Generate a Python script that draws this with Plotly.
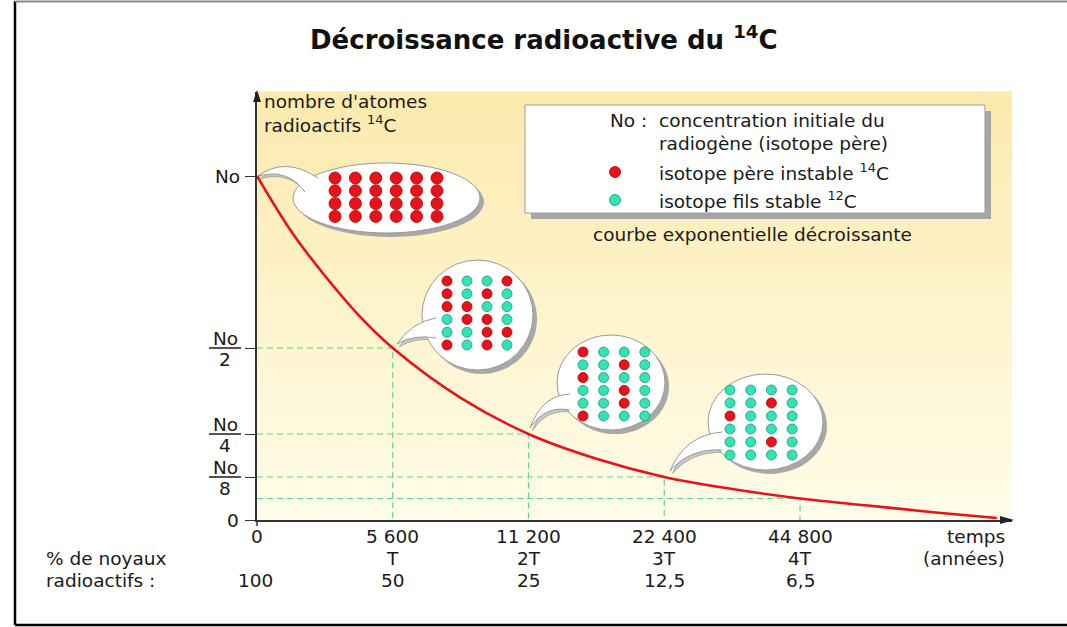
import plotly.graph_objects as go

# ---------------- data ----------------
half_lives = [0, 1, 2, 3, 4]
year_labels = ["0", "5 600", "11 200", "22 400", "44 800"]
period_labels = ["", "T", "2T", "3T", "4T"]
percent_labels = ["100", "50", "25", "12,5", "6,5"]
remaining = [1, 0.5, 0.25, 0.125, 0.0625]

curve_t = [0, 0.25, 0.5, 0.75, 1, 1.5, 2, 2.5, 3, 3.5, 4, 4.5, 5, 5.45]
curve_n = [1, 0.84, 0.71, 0.595, 0.5, 0.355, 0.25, 0.178, 0.125, 0.09, 0.0625, 0.042, 0.022, 0.006]

y_tick_vals = [0, 0.125, 0.25, 0.5, 1]
y_fractions = [0.5, 0.25, 0.125]
y_fraction_denoms = ["2", "4", "8"]

bubble_patterns = [
    ["RRRRRR", "RRRRRR", "RRRRRR", "RRRRRR"],
    ["RGGR", "RGRG", "RRGG", "GRRG", "GGRR", "RGRG"],
    ["RGGG", "GGRG", "RGGG", "GGRG", "GGRG", "RGGG"],
    ["GGGG", "GGRG", "RGGG", "GGGG", "GGRG", "GGGG"],
]

# ---------------- layout geometry (pixels) ----------------
W, H = 1067, 627
L, R, T, B = 257, 1012, 92, 520
PX_PER_T = 135.75
PX_PER_NO = 344.0
XMAX = (R - L) / PX_PER_T
YMAX = (B - T) / PX_PER_NO

def dx(px):
    return (px - L) / PX_PER_T

def dy(py):
    return (B - py) / PX_PER_NO

def ppx(px):
    return (px - L) / (R - L)

def ppy(py):
    return (B - py) / (B - T)

RED = "#E8121B"
RED_EDGE = "#A80000"
TEAL = "#34E3B4"
TEAL_EDGE = "#17997A"
TXT = "#1A1A1A"
FONT = "DejaVu Sans"
FS = 18.5

fig = go.Figure()
shapes = []
annotations = []

# background gradient
top_c = (252, 234, 174)
bot_c = (255, 252, 232)
nb = 43
for i in range(nb):
    f = i / (nb - 1)
    c = tuple(round(top_c[k] + (bot_c[k] - top_c[k]) * f) for k in range(3))
    y0 = T + (B - T) * i / nb
    y1 = T + (B - T) * (i + 1) / nb
    shapes.append(dict(type="rect", xref="paper", yref="paper", layer="below",
                       x0=0, x1=1, y0=ppy(y1) - 0.002, y1=ppy(y0) + 0.002,
                       line=dict(width=0), fillcolor="rgb(%d,%d,%d)" % c))

# frame
shapes.append(dict(type="line", xref="paper", yref="paper", x0=ppx(15), x1=ppx(15),
                   y0=ppy(1), y1=ppy(625), line=dict(color="black", width=2.5)))
shapes.append(dict(type="line", xref="paper", yref="paper", x0=ppx(15), x1=ppx(1067),
                   y0=ppy(1.5), y1=ppy(1.5), line=dict(color="#888", width=2)))
shapes.append(dict(type="line", xref="paper", yref="paper", x0=ppx(15), x1=ppx(1067),
                   y0=ppy(625), y1=ppy(625), line=dict(color="black", width=2.5)))

# legend box
shapes.append(dict(type="rect", xref="x", yref="y", layer="below",
                   x0=dx(531), x1=dx(991), y0=dy(219), y1=dy(111),
                   line=dict(width=0), fillcolor="#A6A6A6"))
shapes.append(dict(type="rect", xref="x", yref="y", layer="below",
                   x0=dx(525), x1=dx(985), y0=dy(213), y1=dy(105),
                   line=dict(width=1, color="#9A9A9A"), fillcolor="white"))

# speech bubbles
bubbles = [
    dict(box=(293, 163, 480, 233), origin=(335, 178), step=(20.4, 12.8), size=12,
         tail=[(318, 178), (285, 156), (258, 176), (288, 168), (305, 192)]),
    dict(box=(422, 260, 533, 370), origin=(447, 281), step=(20.0, 12.8), size=10,
         tail=[(436, 318), (412, 322), (397, 344), (414, 334), (436, 338)]),
    dict(box=(557, 335, 665, 430), origin=(583, 352), step=(20.6, 12.8), size=10,
         tail=[(570, 394), (542, 395), (530, 428), (545, 405), (570, 410)]),
    dict(box=(708, 374, 823, 470), origin=(730, 390), step=(20.7, 13.0), size=10,
         tail=[(722, 432), (685, 435), (670, 471), (690, 448), (722, 450)]),
]

def tail_path(pts, off=0):
    p = [(dx(a + off), dy(b + off)) for a, b in pts]
    return "M %f,%f Q %f,%f %f,%f Q %f,%f %f,%f" % (
        p[0][0], p[0][1], p[1][0], p[1][1], p[2][0], p[2][1], p[3][0], p[3][1], p[4][0], p[4][1])

for bub in bubbles:
    x0, y0, x1, y1 = bub["box"]
    shapes.append(dict(type="circle", xref="x", yref="y", layer="below",
                       x0=dx(x0 + 4), x1=dx(x1 + 4), y0=dy(y1 + 4), y1=dy(y0 + 4),
                       line=dict(width=0), fillcolor="#A8A8A8"))
    shapes.append(dict(type="path", xref="x", yref="y", layer="below",
                       path=tail_path(bub["tail"], 2.5), line=dict(width=1, color="#A8A8A8"),
                       fillcolor="#C8C8C8"))
    shapes.append(dict(type="circle", xref="x", yref="y", layer="below",
                       x0=dx(x0), x1=dx(x1), y0=dy(y1), y1=dy(y0),
                       line=dict(width=1, color="#9A9A9A"), fillcolor="white"))
    shapes.append(dict(type="path", xref="x", yref="y", layer="below",
                       path=tail_path(bub["tail"]), line=dict(width=1, color="#9A9A9A"),
                       fillcolor="white"))

# dashed guide lines
gx, gy = [], []
for t, n in zip(half_lives[1:], remaining[1:]):
    gx += [0, t, t, None]
    gy += [n, n, 0, None]
fig.add_trace(go.Scatter(x=gx, y=gy, mode="lines", hoverinfo="skip",
                         line=dict(color="#5CD88C", width=1.2, dash="6px,4px")))

# decay curve
fig.add_trace(go.Scatter(x=curve_t, y=curve_n, mode="lines", hoverinfo="skip",
                         line=dict(color=RED, width=2.6, shape="spline")))

# dots in bubbles
for bub, pattern in zip(bubbles, bubble_patterns):
    ox, oy = bub["origin"]
    sx, sy = bub["step"]
    for code, col, edge in (("R", RED, RED_EDGE), ("G", TEAL, TEAL_EDGE)):
        xs, ys = [], []
        for r, row in enumerate(pattern):
            for c, ch in enumerate(row):
                if ch == code:
                    xs.append(dx(ox + c * sx))
                    ys.append(dy(oy + r * sy))
        if xs:
            fig.add_trace(go.Scatter(x=xs, y=ys, mode="markers", hoverinfo="skip",
                                     marker=dict(size=bub["size"], color=col,
                                                 line=dict(color=edge, width=0.8))))

# legend dots
fig.add_trace(go.Scatter(x=[dx(615), dx(615)], y=[dy(172), dy(200)], mode="markers",
                         hoverinfo="skip",
                         marker=dict(size=11, color=[RED, TEAL],
                                     line=dict(color=[RED_EDGE, TEAL_EDGE], width=0.8))))

def text(px, py, s, anchor="center", size=FS, bold=False, color=TXT):
    annotations.append(dict(xref="paper", yref="paper", x=ppx(px), y=ppy(py),
                            text=("<b>%s</b>" % s) if bold else s, showarrow=False,
                            xanchor=anchor, yanchor="middle", borderpad=0,
                            font=dict(family=FONT, size=size, color=color)))

# title
text(544, 38, "Décroissance radioactive du <sup>14</sup>C", size=26, bold=True, color="#111")

# y axis title
text(263, 101, "nombre d'atomes", anchor="left")
text(263, 124, "radioactifs <sup>14</sup>C", anchor="left")

# legend texts
text(648, 120, "No :", anchor="right")
text(658, 120, "concentration initiale du", anchor="left")
text(658, 143, "radiogène (isotope père)", anchor="left")
text(658, 172, "isotope père instable <sup>14</sup>C", anchor="left")
text(658, 200, "isotope fils stable <sup>12</sup>C", anchor="left")
text(752, 234, "courbe exponentielle décroissante")

# y tick labels
text(241, 176, "No", anchor="right")
text(240, 520, "0", anchor="right")
for frac, den in zip(y_fractions, y_fraction_denoms):
    lvl = B - frac * PX_PER_NO
    text(225, lvl - 10, "No")
    text(225, lvl + 11.5, den)
    shapes.append(dict(type="line", xref="paper", yref="paper",
                       x0=ppx(209), x1=ppx(241), y0=ppy(lvl), y1=ppy(lvl),
                       line=dict(color=TXT, width=1.5)))

# x tick labels
for t, yl, pl, pc in zip(half_lives, year_labels, period_labels, percent_labels):
    xpx = L + t * PX_PER_T
    text(xpx, 536.5, yl)
    if pl:
        text(xpx, 558.5, pl)
    text(xpx if t else xpx - 2, 580.5, pc)
text(1006, 536.5, "temps", anchor="right")
text(1006, 558.5, "(années)", anchor="right")
text(45, 558.5, "% de noyaux", anchor="left")
text(45, 580.5, "radioactifs :", anchor="left")

# axis arrowheads
def tri(p1, p2, p3):
    return "M %f,%f L %f,%f L %f,%f Z" % (ppx(p1[0]), ppy(p1[1]), ppx(p2[0]), ppy(p2[1]),
                                          ppx(p3[0]), ppy(p3[1]))

shapes.append(dict(type="path", xref="paper", yref="paper", path=tri((257, 90), (253, 102), (261, 102)),
                   fillcolor="#222", line=dict(width=0)))
shapes.append(dict(type="path", xref="paper", yref="paper", path=tri((1014, 520), (1000, 516), (1000, 524)),
                   fillcolor="#222", line=dict(width=0)))
shapes.append(dict(type="line", xref="paper", yref="paper", x0=0, x1=0,
                   y0=ppy(520), y1=ppy(526), line=dict(color="#333", width=1.5)))

fig.update_layout(
    width=W, height=H,
    margin=dict(l=L, r=W - R, t=T, b=H - B, pad=0),
    paper_bgcolor="white", plot_bgcolor="rgba(0,0,0,0)",
    showlegend=False,
    font=dict(family=FONT, size=FS, color=TXT),
    shapes=shapes, annotations=annotations,
    xaxis=dict(range=[0, XMAX], showgrid=False, zeroline=False, showline=True,
               linecolor="#333", linewidth=1.5, ticks="", showticklabels=False,
               fixedrange=True),
    yaxis=dict(range=[0, YMAX], showgrid=False, zeroline=False, showline=True,
               linecolor="#333", linewidth=1.5, ticks="outside", ticklen=10,
               tickwidth=1.2, tickcolor="#333", tickvals=y_tick_vals,
               showticklabels=False, fixedrange=True),
)

fig.write_html("out.html", config={"displayModeBar": False},
               post_script="document.body.style.margin='0';document.body.style.overflow='hidden';")
